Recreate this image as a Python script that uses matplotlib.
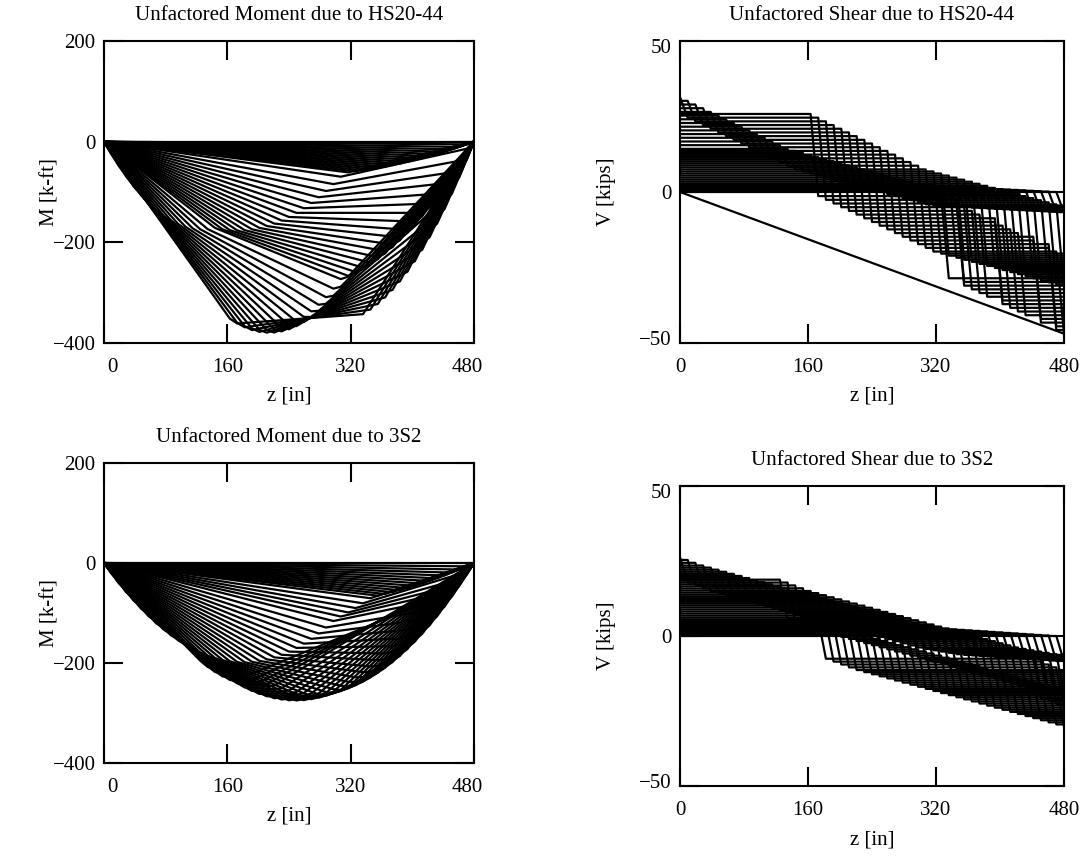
import numpy as np
import matplotlib
matplotlib.use("Agg")
import matplotlib.pyplot as plt
from matplotlib.transforms import ScaledTranslation

plt.rcParams["font.family"] = ["Liberation Serif", "DejaVu Serif"]
plt.rcParams["axes.unicode_minus"] = True

# Beam and load-stepping data (inches, kips)
span = 480.0
z_step = 9.6
truck_step = 9.6
dist_factor = 0.85

# HS20-44: axle loads and distances from the lead axle
hs20_loads = [8.0, 32.0, 32.0]
hs20_offsets = [0.0, 168.0, 336.0]

# 3S2: axle loads and distances from the steering axle
s32_loads = [10.0, 15.5, 15.5, 15.5, 15.5]
s32_offsets = [0.0, 132.0, 180.0, 444.0, 492.0]

z_ticks = [0, 160, 320, 480]
m_ticks = [-400, -200, 0, 200]
v_ticks = [-50, 0, 50]

z = np.arange(0.0, span + z_step / 2, z_step)
positions = np.arange(0.0, span + truck_step / 2, truck_step)


def beam_diagrams(loads, offsets, lead):
    """Moment (k-ft) and shear (kips) along a simple span for one truck position."""
    P = np.asarray(loads) * dist_factor
    x = lead + np.asarray(offsets)
    keep = (x >= 0) & (x <= span)
    P, x = P[keep], x[keep]
    RA = np.sum(P * (span - x)) / span
    V = np.empty_like(z)
    M = np.empty_like(z)
    for k, zz in enumerate(z):
        left = x <= zz
        V[k] = RA - P[left].sum()
        M[k] = (RA * zz - np.sum(P[left] * (zz - x[left]))) / 12.0
    return -M, V


fig = plt.figure(figsize=(10.92, 8.61), dpi=100)
W, H = 1092.0, 861.0


def add_axes(left, top, right, bottom):
    return fig.add_axes([left / W, 1 - bottom / H, (right - left) / W, (bottom - top) / H])


def nudge(label, dx_px, dy_px):
    label.set_transform(label.get_transform()
                        + ScaledTranslation(dx_px / 100.0, dy_px / 100.0, fig.dpi_scale_trans))


def style_axes(ax, yticks, ylim, ylabel, title, ylabel_x, end_shift):
    ax.set_xlim(0, span)
    ax.set_ylim(*ylim)
    ax.set_xticks(z_ticks)
    ax.set_yticks(yticks)
    ax.tick_params(direction="in", length=14, width=1.5, labelsize=15,
                   top=True, right=True, colors="black")
    ax.tick_params(axis="x", pad=11)
    ax.tick_params(axis="y", pad=6)
    for s in ax.spines.values():
        s.set_linewidth(1.5)
    ax.set_xlabel("z [in]", fontsize=15, labelpad=7)
    ax.set_ylabel(ylabel, fontsize=15)
    ax.yaxis.set_label_coords(ylabel_x, 0.5)
    ax.set_title(title, fontsize=15, pad=15)
    xl = ax.get_xticklabels()
    yl = ax.get_yticklabels()
    if end_shift == "x":
        nudge(xl[0], 8, 0)
        nudge(xl[-1], -7, 0)
    else:
        nudge(yl[0], 0, 5)
        nudge(yl[-1], 0, -5)


ax_m1 = add_axes(104, 41, 474, 343)
ax_v1 = add_axes(680, 41, 1064, 343)
ax_m2 = add_axes(104, 463, 474, 763)
ax_v2 = add_axes(680, 486, 1064, 786)

lw = 1.6
end_shear = []
for a in positions:
    M, V = beam_diagrams(hs20_loads, hs20_offsets, a)
    ax_m1.plot(z, M, color="black", lw=lw)
    ax_v1.plot(z, V, color="black", lw=lw)
    end_shear.append(V[-1])
# chord from the origin to the largest end shear
ax_v1.plot([0, span], [0, min(end_shear)], color="black", lw=lw)

for a in positions:
    M, V = beam_diagrams(s32_loads, s32_offsets, a)
    ax_m2.plot(z, M, color="black", lw=lw)
    ax_v2.plot(z, V, color="black", lw=lw)

style_axes(ax_m1, m_ticks, (-400, 200), "M [k-ft]", "Unfactored Moment due to HS20-44", -0.119, "x")
style_axes(ax_v1, v_ticks, (-50, 50), "V [kips]", "Unfactored Shear due to HS20-44", -0.167, "y")
style_axes(ax_m2, m_ticks, (-400, 200), "M [k-ft]", "Unfactored Moment due to 3S2", -0.119, "x")
style_axes(ax_v2, v_ticks, (-50, 50), "V [kips]", "Unfactored Shear due to 3S2", -0.167, "y")

fig.savefig("out.png", dpi=100)
